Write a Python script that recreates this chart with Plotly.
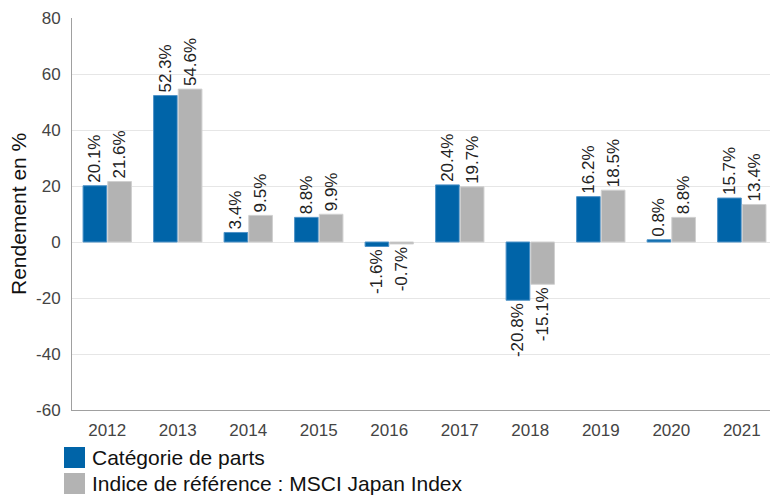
import plotly.graph_objects as go

years = ["2012", "2013", "2014", "2015", "2016", "2017", "2018", "2019", "2020", "2021"]
fund = [20.1, 52.3, 3.4, 8.8, -1.6, 20.4, -20.8, 16.2, 0.8, 15.7]
index = [21.6, 54.6, 9.5, 9.9, -0.7, 19.7, -15.1, 18.5, 8.8, 13.4]
series_names = ["Catégorie de parts", "Indice de référence : MSCI Japan Index"]
colors = ["#0064a8", "#b3b3b3"]
edge_colors = ["#4f93c8", "#d0d0d0"]
y_ticks = [-60, -40, -20, 0, 20, 40, 60, 80]
y_tick_labels = ["-60", "-40", "-20", "0", "20", "40", "60", "80"]

W, H = 770, 496
L, R, T, B = 72, 0, 18, 86
PW, PH = W - L - R, H - T - B

def px_x(px):
    return (px - L) / PW

def px_y(py):
    return (H - B - py) / PH

FONT = "Liberation Sans, Arial, sans-serif"

fig = go.Figure()
for name, vals, col, ec in zip(series_names, [fund, index], colors, edge_colors):
    fig.add_trace(go.Bar(
        x=years, y=vals, name=name,
        marker=dict(color=col, line=dict(color=ec, width=1)),
        text=[f"{v:.1f}%" for v in vals],
        textposition="outside", textangle=-90,
        textfont=dict(family=FONT, size=17, color="#222222"),
        constraintext="none", cliponaxis=False,
        showlegend=False,
    ))

fig.update_layout(
    width=W, height=H,
    margin=dict(l=L, r=R, t=T, b=B),
    paper_bgcolor="white", plot_bgcolor="white",
    barmode="group", bargap=0.3, bargroupgap=0.04,
    font=dict(family=FONT, color="#444444"),
    xaxis=dict(
        type="category", range=[-0.5, 9.4],
        showline=True, linecolor="#a0a0a0", linewidth=1,
        showgrid=False, ticks="",
        tickfont=dict(family=FONT, size=17, color="#444444"),
        ticklabelstandoff=5,
    ),
    yaxis=dict(
        range=[-60, 80], tickvals=y_ticks, ticktext=y_tick_labels,
        showline=True, linecolor="#a0a0a0", linewidth=1,
        showgrid=True, gridcolor="#e6e6e6", gridwidth=1,
        zeroline=False, ticks="",
        tickfont=dict(family=FONT, size=17, color="#444444"),
        ticklabelstandoff=7,
    ),
)

fig.add_annotation(
    text="Rendement en %", xref="paper", yref="paper",
    x=px_x(18), y=0.5, xanchor="center", yanchor="middle",
    textangle=-90, showarrow=False,
    font=dict(family=FONT, size=21, color="#111111"),
)

# custom legend
leg_rows = [(447, 468), (473, 494)]
for (y0, y1), name, col in zip(leg_rows, series_names, colors):
    fig.add_shape(type="rect", xref="paper", yref="paper",
                  x0=px_x(64), x1=px_x(85), y0=px_y(y1), y1=px_y(y0),
                  fillcolor=col, line=dict(width=0))
    fig.add_annotation(
        text=name, xref="paper", yref="paper",
        x=px_x(90), y=px_y((y0 + y1) / 2), xanchor="left", yanchor="middle",
        showarrow=False, font=dict(family=FONT, size=21, color="#111111"),
    )

fig.write_html(
    "out.html",
    config={"displayModeBar": False},
    post_script="document.body.style.margin='0';document.body.style.overflow='hidden';",
)
